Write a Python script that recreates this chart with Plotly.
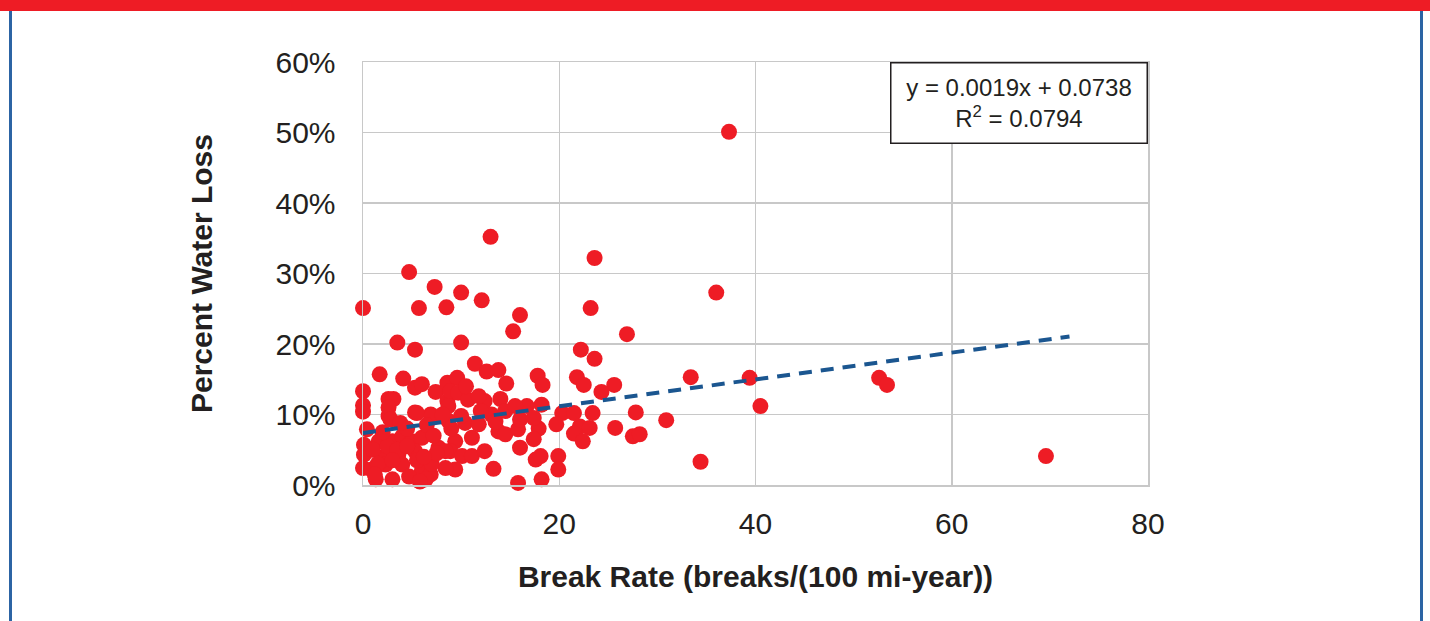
import plotly.graph_objects as go

# ---- data (break rate, percent water loss in %) ----
break_rate = [
    0, 3.5, 4.7, 5.3, 5.7, 7.3, 8.5, 10, 10, 12.1, 13, 16, 15.3, 11.4,
    23.6, 36, 23.2, 26.9, 22.2, 23.6, 33.4, 21.8, 22.5, 25.6, 24.3, 17.8, 18.3, 18.2,
    20.3, 21.5, 23.4, 27.8, 30.9, 19.7, 17.9, 22.1, 23.1, 25.7, 21.5, 22.4, 27.5, 28.2,
    17.4, 17.6, 18.1, 19.9, 19.9, 18.2, 34.4,
    37.3, 39.4, 40.5, 52.6, 53.4, 69.6,
    1.7, 4.1, 0, 0, 0, 2.6, 3.1, 5.3, 6.0, 7.4, 8.6, 8.6, 5.3, 6.9, 2.6,
    12.6, 13.8, 14.6, 9.6, 8.9, 9.7, 10.7, 12.4, 14.0, 16.7, 8.7,
    9.4, 11.1, 8.9, 10.1, 11.1, 12.4, 9.4, 13.3, 13.8, 14.5, 16.0, 15.8, 15.8,
    8.7, 10.4, 11.8, 13.1, 16.0, 17.4,
    2.6, 5.5, 7.0, 8.1, 2.8, 0.1, 0.1, 1.6, 3.0, 4.0, 5.0, 6.0, 7.7, 5.3, 3.6, 2.0,
    0, 0.9, 2.3, 4.0, 6.0, 6.9, 1.3, 3.0, 4.7, 6.4, 0.4, 8.4, 8.4,
    1.0, 2.5, 3.5, 4.5, 1.5, 3.0, 5.5, 7.0, 2.0, 4.5, 6.5, 1.2, 5.8, 7.5, 9.0,
    10.0, 12.0, 14.5, 15.5, 10.5, 11.8, 13.5, 3.8, 7.2, 6.2,
]
water_loss_pct = [
    25.1, 20.2, 30.2, 19.2, 25.1, 28.1, 25.2, 27.3, 20.2, 26.2, 35.2, 24.1, 21.8, 17.2,
    32.2, 27.3, 25.1, 21.4, 19.2, 17.9, 15.3, 15.3, 14.2, 14.2, 13.2, 15.5, 14.2, 11.4,
    10.2, 10.2, 10.2, 10.3, 9.2, 8.6, 8.0, 8.3, 8.1, 8.1, 7.3, 6.2, 6.9, 7.2,
    6.5, 3.6, 4.1, 4.1, 2.2, 0.8, 3.3,
    50.1, 15.2, 11.2, 15.2, 14.2, 4.1,
    15.7, 15.1, 13.3, 11.3, 10.4, 12.2, 12.2, 13.8, 14.3, 13.2, 14.5, 11.9, 10.3, 10.0, 9.8,
    16.1, 16.3, 14.4, 15.2, 13.3, 13.1, 12.1, 11.9, 12.2, 11.2, 11.2,
    6.2, 6.7, 4.8, 4.1, 4.1, 4.8, 2.2, 2.3, 7.6, 7.2, 5.3, 7.9, 0.3,
    9.1, 8.8, 8.6, 10.0, 9.3, 9.5,
    11.0, 10.2, 9.8, 10.0, 9.3, 5.7, 4.3, 6.2, 6.2, 6.9, 6.2, 6.7, 5.3, 4.8, 4.3, 3.9,
    2.4, 2.2, 2.9, 2.9, 2.0, 1.5, 0.8, 0.8, 1.2, 0.8, 7.9, 4.8, 2.4,
    5.0, 5.5, 5.0, 5.5, 3.0, 3.5, 3.5, 3.0, 7.5, 8.0, 8.5, 1.5, 0.5, 4.5, 8.0,
    9.8, 10.5, 10.5, 11.2, 14.0, 12.6, 9.0, 8.8, 7.0, 4.0,
]
trend_slope = 0.0019
trend_intercept = 0.0738
trend_x = [0, 72]
x_ticks = [0, 20, 40, 60, 80]
y_ticks = [0, 0.1, 0.2, 0.3, 0.4, 0.5, 0.6]
y_tick_labels = ["0%", "10%", "20%", "30%", "40%", "50%", "60%"]
equation_text = "y = 0.0019x + 0.0738<br>R<sup style='font-size:60%'>2</sup> = 0.0794"

# ---- styling ----
W, H = 1430, 621
ML, MR, MT, MB = 363, 282, 62, 136
RED = "#ee1c25"
BLUE = "#1b5690"
GRID = "#c8c8c8"
TXT = "#231f20"
FONT = "Liberation Sans, Arial, sans-serif"

y_vals = [v / 100 for v in water_loss_pct]
trend_y = [trend_slope * x + trend_intercept for x in trend_x]

fig = go.Figure()
fig.add_trace(go.Scatter(
    x=break_rate, y=y_vals, mode="markers", cliponaxis=False,
    marker=dict(color=RED, size=16, line=dict(width=0)),
    showlegend=False, hoverinfo="skip",
))
fig.add_trace(go.Scatter(
    x=trend_x, y=trend_y, mode="lines", cliponaxis=False,
    line=dict(color=BLUE, width=4, dash="13px,9px"),
    showlegend=False, hoverinfo="skip",
))

pw = W - ML - MR
ph = H - MT - MB

def px_to_paper_x(px):
    return (px - ML) / pw

def px_to_paper_y(py):
    return (H - MB - py) / ph

shapes = [
    dict(type="rect", xref="paper", yref="paper",
         x0=px_to_paper_x(-2), x1=px_to_paper_x(W + 2),
         y0=px_to_paper_y(11), y1=px_to_paper_y(-2),
         fillcolor=RED, line=dict(width=0), layer="above"),
    dict(type="line", xref="paper", yref="paper",
         x0=px_to_paper_x(10.5), x1=px_to_paper_x(10.5),
         y0=px_to_paper_y(11), y1=px_to_paper_y(H + 2),
         line=dict(color="#2c64a4", width=3)),
    dict(type="line", xref="paper", yref="paper",
         x0=px_to_paper_x(1421.5), x1=px_to_paper_x(1421.5),
         y0=px_to_paper_y(11), y1=px_to_paper_y(H + 2),
         line=dict(color="#2c64a4", width=3)),
]

fig.update_layout(
    width=W, height=H,
    margin=dict(l=ML, r=MR, t=MT, b=MB, pad=0),
    paper_bgcolor="white", plot_bgcolor="white",
    font=dict(family=FONT, color=TXT),
    shapes=shapes,
    annotations=[dict(
        xref="paper", yref="paper", x=1, y=1, xanchor="right", yanchor="top",
        text=equation_text, showarrow=False, align="center",
        font=dict(size=24, family=FONT, color=TXT),
        bgcolor="white", bordercolor=TXT, borderwidth=1.5,
        width=253, height=77,
    )],
)
fig.update_xaxes(
    range=[0, 80], tickvals=x_ticks, showgrid=True, gridcolor=GRID, gridwidth=1.5,
    showline=True, linecolor=GRID, linewidth=1.5, mirror=True, zeroline=False,
    ticks="", ticklabelstandoff=11,
    tickfont=dict(size=30, family=FONT, color=TXT),
    title=dict(text="<b>Break Rate (breaks/(100 mi-year))</b>",
               font=dict(size=30, family=FONT, color=TXT), standoff=27),
)
fig.update_yaxes(
    range=[0, 0.6], tickvals=y_ticks, ticktext=y_tick_labels,
    showgrid=True, gridcolor=GRID, gridwidth=1.5,
    showline=True, linecolor=GRID, linewidth=1.5, mirror=True, zeroline=False,
    ticks="", ticklabelstandoff=20,
    tickfont=dict(size=30, family=FONT, color=TXT),
    title=dict(text="<b>Percent Water Loss</b>",
               font=dict(size=30, family=FONT, color=TXT), standoff=54),
)

fig.write_html("out.html", config={"displayModeBar": False, "staticPlot": True})

# remove default page margin so the figure sits at the window's top-left corner
with open("out.html", "r", encoding="utf-8") as f:
    html = f.read()
html = html.replace("<body>", '<body style="margin:0;padding:0;overflow:hidden">', 1)
with open("out.html", "w", encoding="utf-8") as f:
    f.write(html)
